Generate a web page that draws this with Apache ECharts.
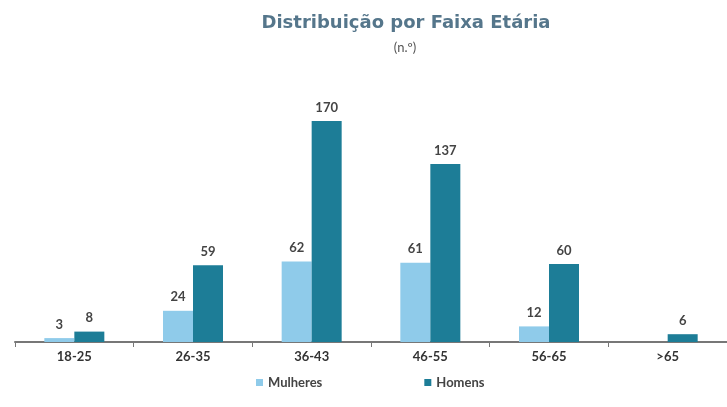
<!DOCTYPE html>
<html><head><meta charset="utf-8">
<script src="https://cdn.jsdelivr.net/npm/echarts@6/dist/echarts.min.js"></script>
<style>html,body{margin:0;padding:0;background:#fff}#c{width:727px;height:407px}</style>
</head><body><div id="c"></div>
<script>
const categories = ['18-25','26-35','36-43','46-55','56-65','>65'];
const mulheres = [3,24,62,61,12,0];
const homens = [8,59,170,137,60,6];
const seriesNames = ['Mulheres','Homens'];

const chart = echarts.init(document.getElementById('c'));
const labelStyle = {show:true, position:'top', color:'#444', fontSize:13, fontWeight:'bold', fontFamily:'Lato', distance:7,
  formatter: p => p.value > 0 ? p.value : ''};
chart.setOption({
  animation:false,
  title:[
    {text:'Distribuição por Faixa Etária', left:401, top:9, textAlign:'center',
     textStyle:{color:'#55768b', fontSize:18, fontWeight:'bold', fontFamily:'DejaVu Sans'}},
    {text:'(n.º)', left:400, top:36, textAlign:'center',
     textStyle:{color:'#555', fontSize:13, fontWeight:'normal', fontFamily:'Lato'}}
  ],
  legend:{data:seriesNames, bottom:13, left:251, itemGap:102, itemWidth:7, itemHeight:7, icon:'rect',
    textStyle:{color:'#444', fontSize:13, fontFamily:'Lato', fontWeight:'bold'}},
  grid:{left:15, right:-6, top:82, bottom:65},
  xAxis:{type:'category', data:categories,
    axisLine:{lineStyle:{color:'#777', width:2}},
    axisTick:{show:true, length:5, lineStyle:{color:'#777'}},
    axisLabel:{color:'#333', fontSize:13, fontWeight:'bold', fontFamily:'Lato', margin:8}},
  yAxis:{type:'value', min:0, max:200, show:false, splitLine:{show:false}},
  series:[
    {name:seriesNames[0], type:'bar', data:mulheres, barWidth:30, barGap:'0%', itemStyle:{color:'#8fcbea'}, label:labelStyle},
    {name:seriesNames[1], type:'bar', data:homens, barWidth:30, barGap:'0%', itemStyle:{color:'#1d7d97'}, label:labelStyle}
  ]
});
</script></body></html>
